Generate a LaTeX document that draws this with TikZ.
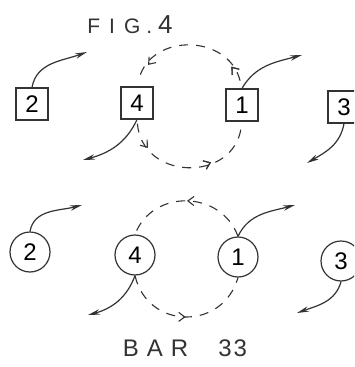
\documentclass[tikz,border=0pt]{standalone}
\usepackage{fontspec}
\newfontfamily\hand{Liberation Sans}
\usetikzlibrary{arrows.meta,decorations.markings}
\begin{document}
\begin{tikzpicture}[x=1pt,y=-1pt,
  ink/.style={draw=black!80,line width=1.2pt},
  sq/.style={ink,rectangle,minimum size=32pt,inner sep=0pt,font=\hand\fontsize{24}{24}\selectfont},
  rnd/.style={ink,circle,minimum size=40pt,inner sep=0pt,font=\hand\fontsize{24}{24}\selectfont},
  move/.style={ink,-{Stealth[length=12pt,width=5.5pt]}},
  cyc/.style={ink,line width=1.1pt,dash pattern=on 9pt off 8pt,postaction={decorate}},
  tip/.style={decoration={markings,mark=at position #1 with {\arrow[black!80,line width=1.1pt]{Straight Barb[length=6pt,width=9pt]}}}},
  lbl/.style={text=black!80,font=\hand\fontsize{21}{21}\selectfont}
]
\useasboundingbox (0,0) rectangle (354,367);
\clip (0,0) rectangle (354,367);
\fill[white] (0,0) rectangle (354,367);

\node[lbl] (fig) at (130,25) {F\hspace{9pt}I\hspace{9pt}G\hspace{6pt}.\hspace{6pt}\fontsize{26}{26}\selectfont 4};
\node[lbl,font=\hand\fontsize{24}{24}\selectfont] (bar) at (185,348) {B\hspace{8pt}A\hspace{8pt}R\hspace{30pt}3\hspace{2pt}3};

% top row
\node[sq] (b2) at (32,104) {2};
\node[sq] (b4) at (137,103) {4};
\node[sq] (b1) at (242,105) {1};
\node[sq] (b3) at (344,107) {3};
\coordinate (t2) at (87,52);
\coordinate (t1) at (302,55);
\coordinate (t4) at (83,160);
\coordinate (t3) at (307,163);
\draw[move] (b2.north) to[out=80,in=200] (t2);
\draw[move] (b1.north) to[out=60,in=195] (t1);
\draw[move] (b4.south) to[out=245,in=15] (t4);
\draw[move] (b3.south) to[out=260,in=30] (t3);
\draw[cyc,tip=0.17,postaction={decorate,decoration={markings,mark=at position 0.83 with {\arrow[black!80,line width=1.1pt]{Straight Barb[length=6pt,width=9pt]}}}},shorten <=8pt,shorten >=8pt]
  (b1.north) to[out=104,in=75,looseness=1.36] (b4.north);
\draw[cyc,tip=0.65,postaction={decorate,decoration={markings,mark=at position 0.2 with {\arrow[black!80,line width=1.1pt]{Straight Barb[length=6pt,width=9pt]}}}},shorten <=4pt,shorten >=6pt]
  (b4.south) to[out=275,in=262,looseness=1.5] (b1.south);

% bottom row
\node[rnd] (c2) at (30,252) {2};
\node[rnd] (c4) at (135,255) {4};
\node[rnd] (c1) at (238,257) {1};
\node[rnd] (c3) at (341,261) {3};
\coordinate (u2) at (82,205);
\coordinate (u1) at (295,205);
\coordinate (u4) at (88,315);
\coordinate (u3) at (297,313);
\draw[move] (c2.north) to[out=80,in=195] (u2);
\draw[move] (c1.north) to[out=65,in=195] (u1);
\draw[move] (c4.south) to[out=250,in=15] (u4);
\draw[move] (c3.south) to[out=255,in=20] (u3);
\draw[cyc,tip=0.5] (c1.north) to[out=110,in=69,looseness=1.22] (c4.north);
\draw[cyc,tip=0.5] (c4.south) to[out=283,in=254,looseness=1.38] (c1.south);
\end{tikzpicture}
\end{document}
